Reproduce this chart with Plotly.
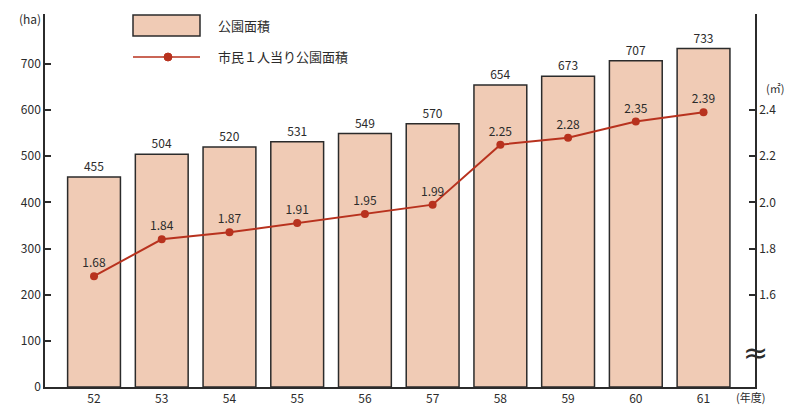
import plotly.graph_objects as go

years = ["52", "53", "54", "55", "56", "57", "58", "59", "60", "61"]
park_area = [455, 504, 520, 531, 549, 570, 654, 673, 707, 733]
per_capita = [1.68, 1.84, 1.87, 1.91, 1.95, 1.99, 2.25, 2.28, 2.35, 2.39]
left_ticks = [0, 100, 200, 300, 400, 500, 600, 700]
right_ticks = [1.6, 1.8, 2.0, 2.2, 2.4]

W, H = 789, 407
L, R, T, B = 45, 34, 14, 20
PW, PH = W - L - R, H - T - B

def px(x):
    return (x - L) / PW

def py(y):
    return (H - B - y) / PH

FONT = "Noto Sans CJK JP"
DARK = "#2b2b2b"
BAR_FILL = "#f0cbb5"
LINE_COL = "#b8321e"

YMAX = 808
fig = go.Figure()
fig.add_trace(go.Bar(
    x=list(range(len(years))), y=park_area, width=0.78,
    marker=dict(color=BAR_FILL, line=dict(color=DARK, width=1.5)),
    text=[str(v) for v in park_area], textposition="outside",
    textfont=dict(family=FONT, size=12, color=DARK),
    cliponaxis=False, showlegend=False, hoverinfo="skip",
))
fig.add_trace(go.Scatter(
    x=list(range(len(years))), y=per_capita, yaxis="y2",
    mode="lines+markers+text",
    line=dict(color=LINE_COL, width=2),
    marker=dict(color=LINE_COL, size=8),
    text=[f"{v:.2f}" for v in per_capita], textposition="top center",
    textfont=dict(family=FONT, size=12, color=DARK),
    cliponaxis=False, showlegend=False, hoverinfo="skip",
))

fig.update_layout(
    width=W, height=H,
    margin=dict(l=L, r=R, t=T, b=B, pad=0, autoexpand=False),
    paper_bgcolor="white", plot_bgcolor="white",
    font=dict(family=FONT, size=12, color=DARK),
    xaxis=dict(
        range=[-0.724, 9.76], tickmode="array",
        tickvals=list(range(len(years))), ticktext=years,
        showline=True, linecolor=DARK, linewidth=1.5,
        showgrid=False, zeroline=False, ticks="", automargin=False,
        tickfont=dict(family=FONT, size=12, color=DARK),
    ),
    yaxis=dict(
        range=[0, YMAX], tickmode="array", tickvals=left_ticks,
        showline=True, linecolor=DARK, linewidth=1.5,
        showgrid=False, zeroline=False, automargin=False,
        ticks="inside", ticklen=6, tickwidth=1.5, tickcolor=DARK,
        tickfont=dict(family=FONT, size=12, color=DARK),
    ),
    yaxis2=dict(
        range=[1.2, 1.2 + 0.002 * YMAX], overlaying="y", side="right",
        tickmode="array", tickvals=right_ticks, tickformat=".1f",
        showline=True, linecolor=DARK, linewidth=1.5,
        showgrid=False, zeroline=False, automargin=False,
        ticks="inside", ticklen=6, tickwidth=1.5, tickcolor=DARK,
        tickfont=dict(family=FONT, size=12, color=DARK),
    ),
)

# Legend (drawn manually)
fig.add_shape(type="rect", xref="paper", yref="paper",
              x0=px(133), x1=px(200), y0=py(36), y1=py(15),
              fillcolor=BAR_FILL, line=dict(color=DARK, width=1.5))
fig.add_shape(type="line", xref="paper", yref="paper",
              x0=px(133), x1=px(200), y0=py(57), y1=py(57),
              line=dict(color=LINE_COL, width=1.5))
fig.add_shape(type="circle", xref="paper", yref="paper",
              x0=px(164), x1=px(172), y0=py(61), y1=py(53),
              fillcolor=LINE_COL, line=dict(color=LINE_COL, width=1))

ann = [
    dict(text="公園面積", x=px(216), y=py(25)),
    dict(text="市民１人当り公園面積", x=px(216), y=py(57)),
]
for a in ann:
    fig.add_annotation(text=a["text"], x=a["x"], y=a["y"], xref="paper", yref="paper",
                       xanchor="left", yanchor="middle", showarrow=False,
                       font=dict(family=FONT, size=13, color=DARK))

fig.add_annotation(text="(ha)", x=px(30), y=py(18), xref="paper", yref="paper",
                   xanchor="center", yanchor="middle", showarrow=False,
                   font=dict(family=FONT, size=12, color=DARK))
fig.add_annotation(text="(㎡)", x=px(775), y=py(88), xref="paper", yref="paper",
                   xanchor="center", yanchor="middle", showarrow=False,
                   font=dict(family=FONT, size=11, color=DARK))
fig.add_annotation(text="(年度)", x=px(750), y=py(397), xref="paper", yref="paper",
                   xanchor="center", yanchor="middle", showarrow=False,
                   font=dict(family=FONT, size=11, color=DARK))
fig.add_annotation(text="≈", x=px(755), y=py(352), xref="paper", yref="paper",
                   xanchor="center", yanchor="middle", showarrow=False,
                   font=dict(family="DejaVu Sans", size=30, color=DARK))

fig.write_html("out.html")
